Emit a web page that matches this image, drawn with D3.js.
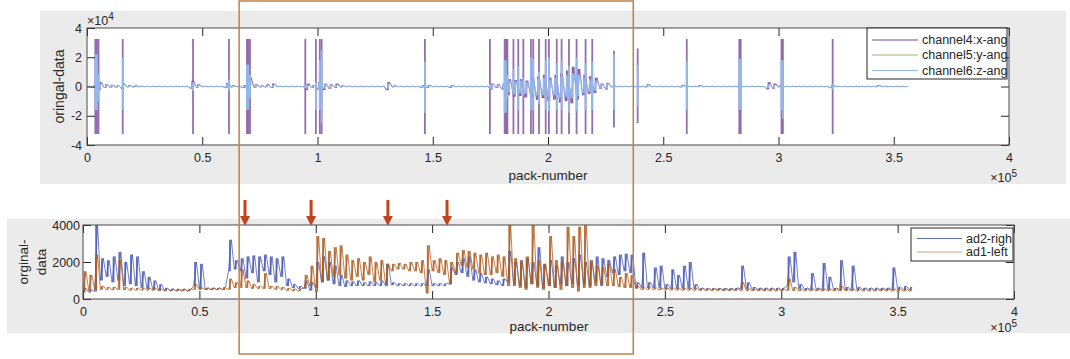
<!DOCTYPE html>
<html>
<head>
<meta charset="utf-8">
<script src="https://cdn.jsdelivr.net/npm/d3@7"></script>
<style>
  body { margin: 0; background: #fff; }
  text { font-family: "Liberation Sans", Arial, sans-serif; fill: #262626; }
</style>
</head>
<body>
<svg id="chart" width="1070" height="359"></svg>
<script>
// envelope arrays: one value per 2500 pack-numbers, from 0 to 355000
const step = 2500;

// ---- top plot (values x1e3) ----
const ch4Hi = [.2,1,3,1.5,1.2,.8,2,.8,.6,.2, .15,.15,.15,.15,.15,.15,.15,.15,4,1.5, .15,.15,.15,.15,2.5,.8,.2,1,6,1.5,
  .6,1.5,2,.2,.2,.15,.15,.15,2,1, 3,2,1.5,2,.6,.2,.2,.2,.2,.2, .2,.2,3,.6,.15,.15,.15,.15,1,1,
  .15,.15,.15,1,.2,.2,.2,.2,.2,.2, 2,1.5,2,5,4.5,5,4,6,7,8, 6,8,9,11,13.5,12,8,7,6,2,
  2.5,.6,.2,.2,.15,.15,.15,1.5,.15,.15, .15,.15,.15,1,.15,.15,.8,.15,.15,.15, .15,.15,.15,.2,.15,.15,.15,.15,3,2,
  1,.15,.15,.15,.15,.15,.15,.15,.15,1, .15,.15,.15,.15,.15,.15,.15,.8,.15,.15, .15,.15,.15];
const ch4Lo = [-.2,-1,-2.5,-1,-.8,-.6,-1.5,-.5,-.5,-.15, -.15,-.15,-.15,-.15,-.15,-.15,-.15,-.15,-1.5,-.8,
  -.15,-.15,-.15,-.15,-1,-.5,-.2,-1,-6,-1, -.5,-.5,-1,-.2,-.2,-.15,-.15,-.15,-2.5,-1,
  -2,-2.5,-1.5,-1,-.5,-.2,-.2,-.2,-.2,-.2, -.2,-.2,-2.5,-.5,-.15,-.15,-.15,-.15,-.8,-1,
  -.15,-.15,-.15,-.8,-.2,-.2,-.2,-.2,-.2,-.2, -2,-1,-2,-6,-7,-6.5,-7.5,-7,-9,-8,
  -10,-9,-11,-10,-11.5,-9,-6,-5,-4.5,-1.5, -2,-.5,-.2,-.2,-.15,-.15,-.15,-.5,-.15,-.15,
  -.15,-.15,-.15,-.5,-.15,-.15,-.15,-.15,-.15,-.15, -.15,-.15,-.15,-.2,-.15,-.15,-.15,-.15,-2,-1.5,
  -.5,-.15,-.15,-.15,-.15,-.15,-.15,-.15,-.15,-1, -.15,-.15,-.15,-.15,-.15,-.15,-.15,-.15,-.15,-.15, -.15,-.15,-.15];
const ch6Hi = [.1,.8,2,1,.8,.5,1.5,.5,.4,.1, .1,.1,.1,.1,.1,.1,.1,.1,1.5,.8, .1,.1,.1,.1,2,.5,.1,.6,3,1,
  .4,.8,1,.1,.1,.1,.1,.1,1,.6, 2,1.5,1,1,.4,.1,.1,.1,.1,.1, .1,.1,2,.4,.1,.1,.1,.1,.6,.6,
  .1,.1,.1,.6,.1,.1,.1,.1,.1,.1, 1.5,1,1.5,4,3.5,4,3,4.5,5,6, 4.5,6,6.5,8,9,8,6,5,4,1.5,
  2,.4,.1,.1,.1,.1,.1,1,.1,.1, .1,.1,.1,.6,.1,.1,.5,.1,.1,.1, .1,.1,.1,.4,.1,.1,.1,.1,1.5,1,
  .6,.1,.1,.1,.1,.1,.1,.1,.1,.6, .1,.1,.1,.1,.1,.1,.1,.5,.1,.1, .1,.1,.1];
const ch6Lo = [-.1,-.8,-2,-.8,-.6,-.4,-1,-.4,-.3,-.1, -.1,-.1,-.1,-.1,-.1,-.1,-.1,-.1,-1,-.5,
  -.1,-.1,-.1,-.1,-.8,-.4,-.1,-.6,-4,-.8, -.3,-.4,-.6,-.1,-.1,-.1,-.1,-.1,-1.5,-.6,
  -1.5,-1.5,-1,-.6,-.3,-.1,-.1,-.1,-.1,-.1, -.1,-.1,-1.5,-.3,-.1,-.1,-.1,-.1,-.5,-.6,
  -.1,-.1,-.1,-.5,-.1,-.1,-.1,-.1,-.1,-.1, -1.5,-.6,-1.5,-4,-5,-4.5,-5,-5,-6,-6,
  -7,-6,-7.5,-7,-8,-6.5,-4.5,-3.5,-3,-1, -1.5,-.3,-.1,-.1,-.1,-.1,-.1,-.3,-.1,-.1,
  -.1,-.1,-.1,-.3,-.1,-.1,-.1,-.1,-.1,-.1, -.1,-.1,-.1,-.3,-.1,-.1,-.1,-.1,-1.2,-1,
  -.3,-.1,-.1,-.1,-.1,-.1,-.1,-.1,-.1,-.6, -.1,-.1,-.1,-.1,-.1,-.1,-.1,-.3,-.1,-.1, -.1,-.1,-.1];

// big bursts (pack-number, purple range, light-blue range)
const spikePos = [3600,4300,5000,15500,46000,61600,69400,70000,70700,94700,99300,101000,101800,146600,174800,
  181200,181800,182400,185000,187100,189300,192600,193600,196100,199000,200400,203800,205900,209100,212400,
  216300,219200,228600,238900,260200,283000,283600,301300,301900,323500];
const spikeHi = [32.5,32.5,32.5,32.5,32.5,32.5,32.5,32.5,32.5,32.5,32.5,32.5,32.5,32.5,32.5,
  32.5,32.5,32.5,32.5,32.5,32.5,32.5,32.5,32.5,32.5,32.5,32.5,32.5,32.5,32.5,
  32.5,32.5,24.5,26,32.5,32.5,32.5,32.5,32.5,32.5];
const spikeLo = [-32.5,-32.5,-32.5,-32.5,-32.5,-32.5,-32.5,-32.5,-32.5,-32.5,-32.5,-32.5,-32.5,-32.5,-32.5,
  -32.5,-32.5,-32.5,-32.5,-32.5,-32.5,-32.5,-32.5,-32.5,-32.5,-32.5,-32.5,-32.5,-32.5,-32.5,
  -32.5,-32.5,-28,-25,-32.5,-32.5,-32.5,-32.5,-32.5,-32.5];
const blueHi = [22,22,8,20,3,5,15,15,8,1,3,18,25,17,1.5, 18,18,8,12,14,6,20,19,10,18,20,16,18,14,20,
  16,17,22,15,17,19,19,18,18,2];
const blueLo = [-16,-16,-10,-16,-3,-3,-16,-16,-8,-1,-16,-16,-25,-18,-1.5, -18,-18,-8,-6,-16,-6,-16,-16,-12,-16,-17,-16,-16,-18,-17,
  -16,-16,-16,-14,-16,-16,-16,-16,-22,-2];
const greenPos = [4300,61600,70000,101000,283300];
const greenHi = [15,4,6,5,3];
const greenLo = [-6,-2,-6,-3,-3];

// ---- bottom plot ----
const ad2Hi = [600,500,4000,2200,2100,2300,2550,2000,2400,2300, 1500,1200,1000,800,600,550,520,520,500,2000,
  1900,600,600,600,650,3200,2100,2200,2300,2350, 2300,2400,2300,2200,2300,1100,800,700,1000,900,
  2000,2300,2000,1800,1300,1000,950,1000,900,950, 900,1000,1900,900,850,850,850,850,850,1600,
  850,850,850,1700,2000,2200,2300,1600,1400,1200, 1100,1000,1100,2600,2000,2100,2200,2000,2800,1900,
  2100,1800,2300,2000,2200,2400,2000,2100,2300,2200, 2100,2300,2400,2450,2400,900,2500,900,1700,1800,
  800,1600,1300,1800,2000,800,600,580,580,580, 580,580,600,1800,900,650,600,600,600,600,
  600,2300,2550,800,600,1400,600,1950,1200,600, 2100,650,1800,650,600,600,600,600,600,1700, 650,700,650];
const ad2Lo = [350,350,400,1000,1200,900,1000,700,800,700, 600,550,500,470,450,440,430,430,420,700,
  550,500,500,500,500,1500,1600,1500,1100,1400, 900,1500,1300,900,1200,700,600,550,550,450,
  600,900,1000,800,700,650,700,700,700,700, 700,700,700,750,700,700,700,700,700,700,
  700,700,700,800,1300,1400,1200,1000,900,850, 800,750,700,900,800,700,600,800,700,600,
  700,600,800,700,800,700,800,700,900,700, 1200,1400,1300,1500,1400,600,600,600,600,600,
  550,550,550,550,550,550,500,500,500,500, 500,500,500,550,550,500,500,500,500,500,
  500,700,900,550,500,500,500,500,500,500, 500,500,500,500,500,500,500,500,500,500, 500,500,500];
const ad1Hi = [1500,1300,2400,700,650,650,2100,650,600,600, 600,600,600,550,550,550,550,550,550,800,
  600,600,600,600,600,1100,900,1600,1000,800, 700,1400,700,700,650,600,550,550,1300,1800,
  3400,3300,2600,2800,2900,2400,2100,2200,2000,2300, 2000,2100,1900,1900,1950,1900,2000,2000,2100,2900,
  2100,2200,2100,2000,2500,2650,2600,2500,2400,2500, 2300,2400,2300,4000,2200,2000,2300,4000,2100,1900,
  3400,2100,2000,3900,3400,3900,4000,2000,1800,1700, 1900,1600,1200,1400,1300,700,650,650,620,600,
  600,600,580,580,580,570,570,560,560,560, 560,550,550,900,560,550,550,550,550,550,
  550,1100,650,550,550,550,550,550,550,550, 700,550,550,550,550,550,550,550,550,550, 550,550,550];
const ad1Lo = [400,450,500,500,500,480,500,480,460,460, 460,460,460,430,430,430,430,430,430,500,
  500,500,500,500,500,500,600,600,600,550, 550,550,550,500,500,450,430,420,600,700,
  400,900,1000,1200,1300,1100,1000,1200,1000,1300, 900,1000,800,1500,1600,1600,1500,1500,1400,300,
  1500,1400,1300,800,1400,1800,1700,1600,1400,1300, 1300,1400,1200,700,700,600,500,800,600,500,
  700,600,500,700,600,400,600,600,700,800, 700,700,650,600,600,550,500,500,500,480,
  480,470,470,460,460,460,450,450,450,450, 440,440,440,450,440,430,430,430,430,430,
  430,450,440,430,430,430,430,430,430,430, 430,430,430,420,420,420,420,420,420,420, 420,420,420];

const xTicks = [0, 50000, 100000, 150000, 200000, 250000, 300000, 350000, 400000];
const arrowPos = [69600, 98000, 131000, 156400];
const highlight = [66000, 237000];

const col = { ch4: '#7b4a99', ch5: '#9fb873', ch6: '#92b9ec', ad2: '#4757b3', ad1: '#ad5b1d', axis: '#262626' };
const font = '"Liberation Sans", Arial, sans-serif';

const svg = d3.select('#chart');

// figure panels
svg.append('rect').attr('x', 40).attr('y', 11).attr('width', 1026).attr('height', 173).attr('fill', '#ebebeb');
svg.append('rect').attr('x', 7).attr('y', 219).attr('width', 1063).attr('height', 114).attr('fill', '#ebebeb');

const xT = d3.scaleLinear().domain([0, 400000]).range([87, 1009]);
const yT = d3.scaleLinear().domain([-40, 40]).range([145, 28]);
const xB = d3.scaleLinear().domain([0, 400000]).range([83, 1014]);
const yB = d3.scaleLinear().domain([0, 4000]).range([299, 225]);

// dense trace: a min-max stroke per bin plus a zigzag through the bins
function trace(g, x, y, hi, lo, color, barW, op) {
  g.selectAll(null).data(hi).join('line')
    .attr('x1', (d, i) => x(i * step + step / 4)).attr('x2', (d, i) => x(i * step + step / 4))
    .attr('y1', (d, i) => y(lo[i])).attr('y2', d => y(d))
    .attr('stroke', color).attr('stroke-width', barW).attr('stroke-opacity', op);
  const pts = [];
  hi.forEach((h, i) => {
    pts.push([i * step, lo[i]]);
    pts.push([i * step + step / 2, h]);
  });
  const line = d3.line().x(d => x(d[0])).y(d => y(d[1]));
  g.append('path').attr('d', line(pts)).attr('fill', 'none')
    .attr('stroke', color).attr('stroke-width', 0.9).attr('stroke-opacity', op);
}

function plotBg(x, y) {
  svg.append('rect')
    .attr('x', x.range()[0]).attr('y', y.range()[1])
    .attr('width', x.range()[1] - x.range()[0]).attr('height', y.range()[0] - y.range()[1])
    .attr('fill', '#fff');
}

function axes(x, y, yTicks, yFmt, pad) {
  const [x0, x1] = x.range();
  const [y0, y1] = y.range();
  const g = svg.append('g');
  g.append('g').attr('transform', `translate(0,${y0})`)
    .call(d3.axisBottom(x).tickValues(xTicks).tickSize(-8).tickPadding(8).tickFormat(v => v / 1e5));
  g.append('g').attr('transform', `translate(0,${y1})`)
    .call(d3.axisTop(x).tickValues(xTicks).tickSize(-8).tickFormat(''));
  g.append('g').attr('transform', `translate(${x0},0)`)
    .call(d3.axisLeft(y).tickValues(yTicks).tickSize(-8).tickPadding(pad).tickFormat(yFmt));
  g.append('g').attr('transform', `translate(${x1},0)`)
    .call(d3.axisRight(y).tickValues(yTicks).tickSize(-8).tickFormat(''));
  g.selectAll('.domain').remove();
  g.selectAll('.tick line').attr('stroke', col.axis);
  g.selectAll('.tick text').attr('font-size', 12.5).attr('fill', col.axis).style('font-family', font);
  g.append('rect').attr('x', x0).attr('y', y1).attr('width', x1 - x0).attr('height', y0 - y1)
    .attr('fill', 'none').attr('stroke', '#4a4a4a').attr('stroke-width', 1);
}

// ---- top plot ----
plotBg(xT, yT);
svg.append('clipPath').attr('id', 'clipT').append('rect')
  .attr('x', 87).attr('y', 28).attr('width', 922).attr('height', 117);
const gT = svg.append('g').attr('clip-path', 'url(#clipT)');

trace(gT, xT, yT, ch4Hi, ch4Lo, col.ch4, 1.6, 0.9);
gT.selectAll('.sp4').data(spikePos).join('line')
  .attr('x1', d => xT(d)).attr('x2', d => xT(d))
  .attr('y1', (d, i) => yT(spikeHi[i])).attr('y2', (d, i) => yT(spikeLo[i]))
  .attr('stroke', col.ch4).attr('stroke-width', 1.8).attr('stroke-opacity', 0.8);
gT.selectAll('.sp5').data(greenPos).join('line')
  .attr('x1', d => xT(d)).attr('x2', d => xT(d))
  .attr('y1', (d, i) => yT(greenHi[i])).attr('y2', (d, i) => yT(greenLo[i]))
  .attr('stroke', col.ch5).attr('stroke-width', 2);
trace(gT, xT, yT, ch6Hi, ch6Lo, col.ch6, 1.6, 1);
gT.selectAll('.sp6').data(spikePos).join('line')
  .attr('x1', d => xT(d)).attr('x2', d => xT(d))
  .attr('y1', (d, i) => yT(blueHi[i])).attr('y2', (d, i) => yT(blueLo[i]))
  .attr('stroke', col.ch6).attr('stroke-width', 1.8);

axes(xT, yT, [-40, -20, 0, 20, 40], v => v / 10, 5);

// ---- bottom plot ----
plotBg(xB, yB);
svg.append('clipPath').attr('id', 'clipB').append('rect')
  .attr('x', 83).attr('y', 225).attr('width', 931).attr('height', 74);
const gB = svg.append('g').attr('clip-path', 'url(#clipB)');
trace(gB, xB, yB, ad2Hi, ad2Lo, col.ad2, 1.8, 0.85);
trace(gB, xB, yB, ad1Hi, ad1Lo, col.ad1, 1.8, 0.85);

axes(xB, yB, [0, 2000, 4000], d3.format('d'), 3);

// ---- labels ----
function label(x, y, txt, size, rot) {
  return svg.append('text').attr('x', x).attr('y', y).attr('font-size', size)
    .attr('text-anchor', 'middle')
    .attr('transform', rot ? `rotate(${rot},${x},${y})` : null)
    .style('font-family', font).text(txt);
}
label(64, 86.5, 'oringal-data', 14, -90);
label(548, 180, 'pack-number', 13.5);
label(28, 262, 'orginal-', 13.5, -90);
label(46, 262, 'data', 13.5, -90);
label(549, 331, 'pack-number', 13.5);

function exponent(x, y, p, anchor) {
  const t = svg.append('text').attr('x', x).attr('y', y).attr('font-size', 12.5)
    .attr('text-anchor', anchor).style('font-family', font);
  t.append('tspan').text('\u00d710');
  t.append('tspan').attr('dy', -5).attr('font-size', 10).text(p);
}
exponent(87, 25, '4', 'start');
exponent(1017, 182, '5', 'end');
exponent(1017, 332, '5', 'end');

// ---- legends ----
function legend(x, y, w, h, items, lx0, lx1, tx, rowY) {
  svg.append('rect').attr('x', x).attr('y', y).attr('width', w).attr('height', h)
    .attr('fill', '#fff').attr('stroke', '#262626').attr('stroke-width', 1);
  items.forEach((it, i) => {
    svg.append('line').attr('x1', lx0).attr('x2', lx1).attr('y1', rowY[i]).attr('y2', rowY[i])
      .attr('stroke', it.c).attr('stroke-width', 1.2);
    svg.append('text').attr('x', tx).attr('y', rowY[i]).attr('dy', '0.35em').attr('font-size', 12.5)
      .style('font-family', font).text(it.t);
  });
}
legend(867, 28, 140, 51,
  [{ t: 'channel4:x-ang', c: col.ch4 }, { t: 'channel5:y-ang', c: col.ch5 }, { t: 'channel6:z-ang', c: col.ch6 }],
  872, 918, 922, [40, 55, 70.5]);
legend(911, 228, 102, 33,
  [{ t: 'ad2-righ', c: '#5a6cc0' }, { t: 'ad1-left', c: '#d3a57c' }],
  917, 962, 966, [238.5, 252]);

// ---- arrows ----
arrowPos.forEach(p => {
  const x = xB(p);
  svg.append('line').attr('x1', x).attr('x2', x).attr('y1', 200).attr('y2', 218)
    .attr('stroke', '#c1441c').attr('stroke-width', 3);
  svg.append('path').attr('d', `M${x - 5},216 L${x + 5},216 L${x},226 Z`).attr('fill', '#c1441c');
});

// ---- highlight box ----
svg.append('rect')
  .attr('x', xT(highlight[0])).attr('y', 1)
  .attr('width', xT(highlight[1]) - xT(highlight[0])).attr('height', 353)
  .attr('fill', 'none').attr('stroke', '#c47f45').attr('stroke-width', 1.5);
</script>
</body>
</html>
